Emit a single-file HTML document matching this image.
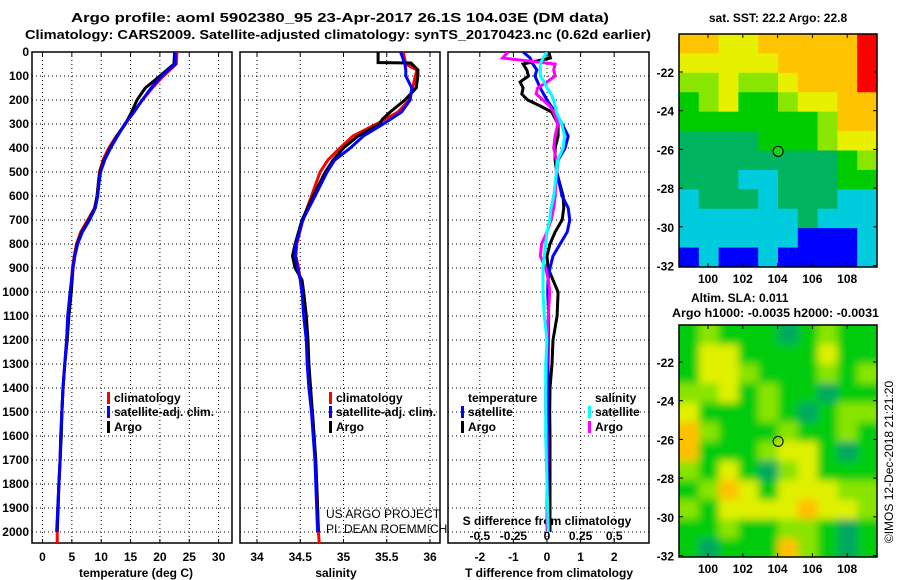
<!DOCTYPE html>
<html><head><meta charset="utf-8"><style>
body{margin:0;background:#fff}
svg{display:block;font-family:"Liberation Sans",Arial,sans-serif;font-weight:bold}
</style></head><body>
<svg id="s" width="900" height="580" viewBox="0 0 900 580" xmlns="http://www.w3.org/2000/svg">
<defs>
<clipPath id="c1"><rect x="32" y="52" width="200" height="491"/></clipPath>
<clipPath id="c2"><rect x="240" y="52" width="200" height="491"/></clipPath>
<clipPath id="c3"><rect x="448" y="52" width="201" height="491"/></clipPath>
<clipPath id="cm2"><rect x="679" y="325" width="198" height="232"/></clipPath>
<filter id="bl" x="0" y="0" width="1" height="1"><feGaussianBlur stdDeviation="4"/></filter>
</defs>
<text x="340" y="22" text-anchor="middle" font-size="13" textLength="538" lengthAdjust="spacingAndGlyphs">Argo profile: aoml 5902380_95 23-Apr-2017 26.1S 104.03E (DM data)</text>
<text x="338" y="39" text-anchor="middle" font-size="13" textLength="626" lengthAdjust="spacingAndGlyphs">Climatology: CARS2009. Satellite-adjusted climatology: synTS_20170423.nc (0.62d earlier)</text>
<g id="g"></g>
</svg>
<script>
const NS='http://www.w3.org/2000/svg';
const G=document.getElementById('g');
function mk(tag,at,parent){const e=document.createElementNS(NS,tag);for(const k in at)e.setAttribute(k,at[k]);(parent||G).appendChild(e);return e;}
function tx(str,x,y,at,parent){const e=mk('text',Object.assign({x:x,y:y,'font-size':12},at||{}),parent);e.textContent=str;return e;}

// ---------- data ----------
const depthTicks=[0,100,200,300,400,500,600,700,800,900,1000,1100,1200,1300,1400,1500,1600,1700,1800,1900,2000];
const tempTicks=[0,5,10,15,20,25,30];
const salTicks=[34,34.5,35,35.5,36];
const salTickLabels=['34','34.5','35','35.5','36'];
const tdiffTicks=[-2,-1,0,1,2];
const sdiffTicks=[-0.5,-0.25,0,0.25,0.5];
const sdiffTickLabels=['-0.5','-0.25','0','0.25','0.5'];

const tDepth=[0,50,100,150,200,250,300,350,400,450,500,550,600,650,700,750,800,850,900,1000,1100,1200,1300,1400,1500,1600,1700,1800,1900,2000];
const tClim=[22.9,22.8,20.6,18.7,17.0,15.5,14.1,12.6,11.3,10.3,9.7,9.5,9.3,8.9,7.7,6.5,5.8,5.4,5.1,4.8,4.4,4.1,3.8,3.5,3.3,3.1,3.0,2.8,2.7,2.5];
const tSat=[22.6,22.6,20.3,18.5,17.0,15.6,14.0,12.8,11.6,10.6,9.9,9.6,9.4,9.0,8.0,6.8,6.0,5.5,5.2,4.7,4.3,4.1,3.8,3.5,3.3,3.1,3.0,2.8,2.6,2.4];
const tArgo=[22.5,22.4,20.0,17.5,16.1,15.2,14.1,12.7,11.5,10.5,9.8,9.5,9.3,8.9,7.9,6.7,5.9,5.5,5.2,4.9,4.5,4.2,3.8,3.5,3.3,3.2,3.0,2.8,2.6,2.5];
const tClimExtra=[[2000,2.5],[2050,2.5]];

const sDepth=[0,50,75,100,150,200,250,300,350,400,450,500,600,700,800,850,900,950,1000,1100,1200,1300,1400,1500,1600,1700,1800,1900,2000];
const sClim=[35.69,35.72,35.85,35.83,35.80,35.76,35.63,35.38,35.11,34.96,34.82,34.73,34.63,34.53,34.46,34.45,34.48,34.50,34.52,34.55,34.58,34.59,34.61,34.64,34.66,34.67,34.69,34.70,34.71];
const sSat=[35.66,35.71,35.72,35.72,35.79,35.77,35.67,35.46,35.23,35.08,34.90,34.81,34.67,34.53,34.45,34.44,34.47,34.50,34.52,34.54,34.57,34.58,34.60,34.63,34.65,34.67,34.68,34.69,34.70];
const sArgoDepth=[0,44,46,75,100,150,200,250,280,300,350,400,450,500,600,700,800,850,900,950,1000,1100,1200,1300,1400,1500,1600,1700,1800,1900,2000];
const sArgo=[35.40,35.40,35.78,35.86,35.86,35.84,35.71,35.54,35.45,35.42,35.17,35.00,34.88,34.79,34.65,34.52,34.44,34.41,34.44,34.52,34.54,34.57,34.59,34.60,34.62,34.64,34.66,34.68,34.69,34.70,34.71];

const dDepth=[0,25,50,75,100,125,150,175,200,225,250,300,350,400,450,500,600,650,700,750,800,850,900,950,1000,1100,1200,1300,1400,1500,1600,1800,2000];
const dtSat=[-0.71,-0.5,-0.42,-0.3,-0.36,-0.28,-0.2,-0.1,0,0.12,0.24,0.45,0.63,0.54,0.33,0.29,0.45,0.63,0.68,0.6,0.39,0.18,0.09,0.03,0.02,0.05,0.04,0.03,0.03,0.02,0.02,0.02,0.02];
const dtArgo=[0.05,0.1,-0.71,-0.6,-0.55,-0.8,-0.71,-0.75,-0.57,-0.2,0.14,0.33,0.33,0.24,0.24,0.29,0.48,0.5,0.45,0.24,0.09,0,0.03,0.18,0.33,0.3,0.18,0.15,0.09,0.08,0.09,0.09,0.09];
const dsArgo=[-0.29,-0.33,0.06,0.05,0.06,0,-0.07,-0.08,-0.03,0.02,0.05,0.08,0.06,0.05,0.07,0.07,0.06,0.05,0.03,0,-0.04,-0.05,-0.01,0.01,0.02,0.01,0.0,0.0,-0.01,-0.01,0.0,0.0,0.0];
const dsSat=[0,-0.03,-0.05,-0.05,-0.05,-0.02,0,0.03,0.05,0.06,0.07,0.11,0.13,0.12,0.08,0.07,0.05,0.03,0.02,0.0,-0.01,-0.02,-0.03,-0.03,-0.03,-0.02,0,-0.01,-0.01,-0.01,-0.01,0,0.01];

// SST map classes (rows top->bottom, 10 cols)
const sstGrid=[
[6,6,5,5,6,6,6,6,6,7],[5,5,5,5,5,6,6,6,6,7],[4,4,5,4,4,5,6,6,6,7],[3,4,5,3,3,4,5,5,6,6],
[3,3,3,3,3,3,3,4,6,6],[2,2,2,2,3,3,3,4,5,5],[2,2,2,2,2,2,2,2,3,4],[2,2,2,1,1,2,2,2,3,3],
[1,2,2,2,1,2,2,2,1,1],[1,1,1,1,1,1,2,1,1,1],[1,1,1,1,1,1,0,0,0,1],[0,1,0,0,1,0,0,0,0,1]];
const sstColors=['#0000ff','#00ccdd','#00b35e','#00cc00','#88e600','#e6f000','#ffc400','#ff0000'];
const slaGrid=[
[1,2,1,1,1,0,1,2,1,1],[1,3,3,1,1,1,1,3,1,1],[1,3,3,2,1,1,1,2,1,2],[2,2,3,1,2,1,1,0,1,1],
[3,1,1,1,2,1,0,1,2,2],[4,2,1,1,1,2,1,1,2,1],[4,1,1,1,2,3,3,1,0,1],[2,1,3,1,0,2,3,1,1,1],
[1,2,4,3,1,3,3,3,2,2],[2,1,3,3,3,3,4,3,3,2],[1,1,2,1,1,2,2,1,0,1],[1,0,1,1,1,4,2,1,0,1]];
const slaColors=['#00a860','#00cc10','#88e400','#e0f000','#ffc000'];
const latTicks=[-22,-24,-26,-28,-30,-32];
const lonTicks=[100,102,104,106,108];
const floatLon=104.03, floatLat=-26.1;

// ---------- scales ----------
const Y=d=>52+d*0.24;
const xT=v=>42.5+5.87*v;
const xS=v=>257+86.5*(v-34);
const xDT=v=>547+33.6*v;
const xDS=v=>547+134.4*v;
const mapLon=v=>708+17.4*(v-100);
const latY1=v=>72+19.35*(-22-v);
const latY2=v=>362+19.35*(-22-v);

// ---------- panels ----------
const panels=[{x:32,w:200,ticks:tempTicks.map(xT),name:'temperature'},{x:240,w:200,ticks:salTicks.map(xS),name:'salinity'},{x:448,w:201,ticks:tdiffTicks.map(xDT),name:'difference'}];
panels.forEach(p=>{
  const pg=mk('g',{});
  
  
  depthTicks.slice(1).forEach(d=>{const l=mk('line',{x1:p.x,x2:p.x+p.w,y1:Y(d),y2:Y(d),stroke:'#000','stroke-width':1,'stroke-dasharray':'1,3'},pg);
    });
  p.ticks.forEach(x=>{const l=mk('line',{x1:x,x2:x,y1:52,y2:543,stroke:'#000','stroke-width':1,'stroke-dasharray':'1,3'},pg);
    
    mk('line',{x1:x,x2:x,y1:52,y2:56,stroke:'#000'},pg);mk('line',{x1:x,x2:x,y1:539,y2:543,stroke:'#000'},pg);});
  const r=mk('rect',{x:p.x,y:52,width:p.w,height:491,fill:'none',stroke:'#000','stroke-width':1.5},pg);
  
});
depthTicks.forEach(d=>{const t=tx(String(d),29,Y(d)+4,{'text-anchor':'end'});
  });
tempTicks.forEach(v=>{const t=tx(String(v),xT(v),561,{'text-anchor':'middle'});
  });
salTicks.forEach((v,i)=>{const t=tx(salTickLabels[i],xS(v),561,{'text-anchor':'middle'});
  });
tdiffTicks.forEach(v=>{const t=tx(String(v),xDT(v),561,{'text-anchor':'middle'});
  });
sdiffTicks.forEach((v,i)=>{const t=tx(sdiffTickLabels[i],xDS(v),540,{'text-anchor':'middle'});
  });
let t;
t=tx('temperature (deg C)',136,577,{'text-anchor':'middle'});
t=tx('salinity',336,577,{'text-anchor':'middle'});
t=tx('T difference from climatology',549,577,{'text-anchor':'middle'});
t=tx('S difference from climatology',547,525,{'text-anchor':'middle'});

// ---------- series ----------
function line(xs,ds,sx,color,clip,name){
  const d=xs.map((v,i)=>(i?'L':'M')+sx(v).toFixed(1)+','+Y(ds[i]).toFixed(1)).join('');
  const p=mk('path',{d:d,fill:'none',stroke:color,'stroke-width':3,'clip-path':'url(#'+clip+')'});
  
  
}
line(tClim.concat(tClimExtra.map(a=>a[1])),tDepth.concat(tClimExtra.map(a=>a[0])),xT,'#ff0000','c1','temperature-climatology-line');
line(tArgo,tDepth,xT,'#000000','c1','temperature-argo-line');
line(tSat,tDepth,xT,'#0000ff','c1','temperature-satellite-line');
line(sClim.concat([34.72]),sDepth.concat([2050]),xS,'#ff0000','c2','salinity-climatology-line');
line(sArgo,sArgoDepth,xS,'#000000','c2','salinity-argo-line');
line(sSat,sDepth,xS,'#0000ff','c2','salinity-satellite-line');
line(dtArgo,dDepth,xDT,'#000000','c3','tdiff-argo-line');
line(dtSat,dDepth,xDT,'#0000ff','c3','tdiff-satellite-line');
line(dsArgo,dDepth,xDS,'#ff00ff','c3','sdiff-argo-line');
line(dsSat,dDepth,xDS,'#00ffff','c3','sdiff-satellite-line');

// ---------- legends ----------
function leg(x,y,color,label,name){
  const g=mk('g',{});
  
  
  mk('rect',{x:x,y:y-6,width:3,height:12,fill:color},g);
  tx(label,x+7,y+4,{},g);
}
leg(107,398,'#ff0000','climatology','legend-climatology');
leg(107,412,'#0000ff','satellite-adj. clim.','legend-satellite-adj');
leg(107,427,'#000000','Argo','legend-argo');
leg(329,398,'#ff0000','climatology','legend-climatology-salinity');
leg(329,412,'#0000ff','satellite-adj. clim.','legend-satellite-adj-salinity');
leg(329,427,'#000000','Argo','legend-argo-salinity');
t=tx('temperature',468,402);
leg(461,412,'#0000ff','satellite','legend-tdiff-satellite');
leg(461,427,'#000000','Argo','legend-tdiff-argo');
t=tx('salinity',595,402);
leg(588,412,'#00ffff','satellite','legend-sdiff-satellite');
leg(588,427,'#ff00ff','Argo','legend-sdiff-argo');
t=tx('US ARGO PROJECT',326,518,{'font-weight':'normal'});
t=tx('PI: DEAN ROEMMICH',326,533,{'font-weight':'normal'});

// ---------- maps ----------
function mapGrid(grid,colors,y0,name,blur,clip){
  const g=mk('g',{});
  
  
  if(clip)g.setAttribute('clip-path','url(#'+clip+')');
  const inner=mk('g',blur?{filter:'url(#bl)'}:{},g);
  const cw=198/grid[0].length, ch=233/grid.length;
  if(blur){mk('rect',{x:669,y:y0-10,width:218,height:253,fill:colors[1]},inner);}
  grid.forEach((row,r)=>row.forEach((v,c)=>{
    mk('rect',{x:679+c*cw-(blur&&c==0?10:0),y:y0+r*ch-(blur&&r==0?10:0),width:cw+0.5+(blur&&(c==0||c==row.length-1)?10:0),height:ch+0.5+(blur&&(r==0||r==grid.length-1)?10:0),fill:colors[v]},inner);
  }));
  return g;
}
mapGrid(sstGrid,sstColors,34,'sst-map',false,null);
mapGrid(slaGrid,slaColors,325,'sla-map',true,'cm2');
[[34,latY1,267,'sst'],[325,latY2,557,'sla']].forEach(([y0,ly,yb,nm])=>{
  const f=mk('rect',{x:679,y:y0,width:198,height:yb-y0,fill:'none',stroke:'#000','stroke-width':1.5});
  
  latTicks.forEach(v=>{const yy=ly(v);mk('line',{x1:679,x2:683,y1:yy,y2:yy,stroke:'#000'});mk('line',{x1:873,x2:877,y1:yy,y2:yy,stroke:'#000'});
    const l=tx(String(v),674,yy+5,{'text-anchor':'end'});});
  lonTicks.forEach(v=>{const xx=mapLon(v);mk('line',{x1:xx,x2:xx,y1:y0,y2:y0+4,stroke:'#000'});mk('line',{x1:xx,x2:xx,y1:yb-4,y2:yb,stroke:'#000'});
    const l=tx(String(v),xx,yb+16,{'text-anchor':'middle'});});
  const c=mk('circle',{cx:mapLon(floatLon),cy:ly(floatLat),r:5,fill:nm=='sst'?'#22cc22':'none',stroke:'#000','stroke-width':1});
  
});
t=tx('sat. SST: 22.2 Argo: 22.8',778,22,{'text-anchor':'middle'});
t=tx('Altim. SLA: 0.011',691,302);
t=tx('Argo h1000: -0.0035 h2000: -0.0031',672,317,{textLength:207,lengthAdjust:'spacingAndGlyphs'});
t=tx('©IMOS 12-Dec-2018 21:21:20',0,0,{'font-weight':'normal','text-anchor':'middle',transform:'translate(893,462) rotate(-90)'});
</script>
</body></html>
